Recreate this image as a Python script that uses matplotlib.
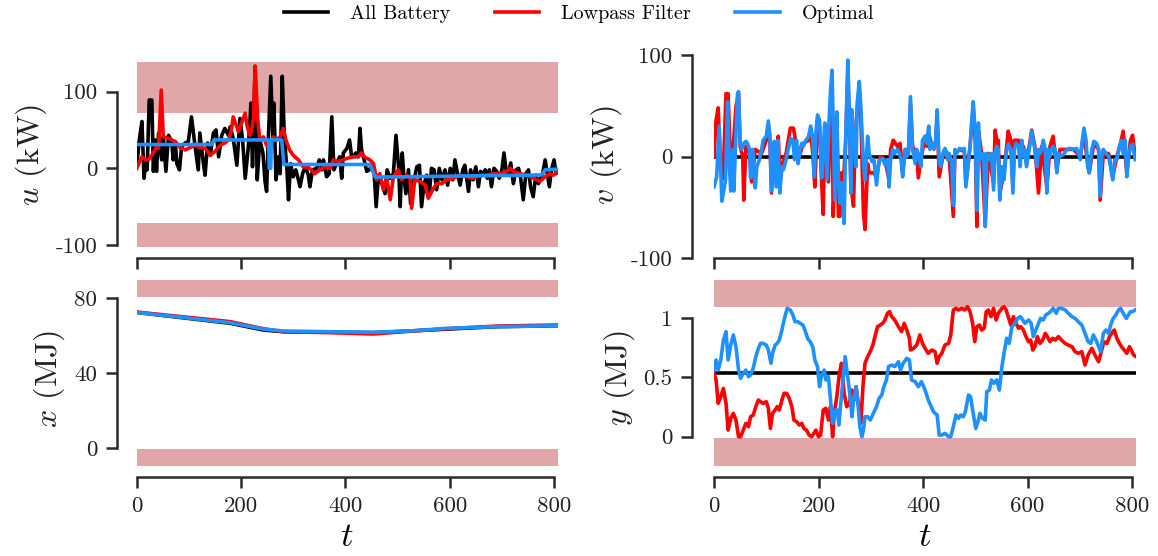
import matplotlib
matplotlib.use("Agg")
import matplotlib.pyplot as plt

plt.rcParams['font.family'] = ['cmr10', 'DejaVu Serif']
plt.rcParams['mathtext.fontset'] = 'cm'
plt.rcParams['axes.formatter.use_mathtext'] = True
plt.rcParams['axes.unicode_minus'] = False

# ---------------- data ----------------
series_names = ["All Battery", "Lowpass Filter", "Optimal"]
t_ticks = [0, 200, 400, 600, 800]

# u (kW): (t, value)
u_battery = [(0,2),(5,37),(10,61),(14,-13),(18,11),(20,-2),(24,89),(29,89),(32,-4),(35,37),(38,-4),(42,46),(48,11),(51,41),(56,-4),(61,43),(67,35),(70,11),(74,33),(77,6),(82,-2),(86,28),(93,33),(99,35),(105,67),(112,28),(118,-2),(121,46),(127,11),(131,-9),(136,33),(141,17),(147,46),(152,50),(157,15),(163,43),(169,52),(176,43),(179,54),(185,39),(192,4),(198,65),(203,37),(208,-13),(214,28),(219,85),(222,2),(227,133),(231,-15),(236,37),(242,20),(246,-17),(249,-30),(252,33),(257,120),(261,41),(263,85),(267,-15),(272,15),(275,-7),(279,120),(283,41),(288,-2),(291,-41),(295,6),(300,-11),(305,-2),(310,-15),(313,-24),(318,-7),(323,2),(329,-9),(332,-24),(337,-2),(345,0),(350,11),(355,-2),(358,11),(364,-11),(369,-7),(374,67),(378,-2),(383,6),(389,15),(393,-13),(396,20),(403,26),(408,37),(412,15),(415,15),(420,20),(425,15),(428,52),(431,24),(436,11),(441,-4),(446,-2),(450,4),(455,-4),(459,-50),(463,-13),(470,-20),(476,-33),(480,-2),(486,-13),(492,-7),(497,43),(502,2),(505,-50),(509,20),(512,-9),(516,-33),(521,-2),(525,-46),(530,-20),(537,2),(542,4),(546,-50),(551,-20),(556,-9),(561,-33),(565,0),(570,-2),(575,-28),(580,0),(585,-15),(591,-2),(596,-22),(601,0),(606,-15),(610,11),(615,-7),(620,-22),(625,-2),(629,4),(633,-15),(636,-30),(640,-2),(645,-15),(650,2),(655,-24),(659,-4),(663,-9),(668,-2),(672,-13),(676,-2),(680,-24),(685,0),(690,-4),(695,-13),(700,-2),(704,20),(708,-2),(712,-9),(717,7),(722,-20),(727,-2),(732,0),(736,-13),(741,-41),(746,-7),(751,-2),(755,-24),(760,-37),(765,-9),(770,-20),(773,-15),(778,-7),(783,11),(787,-7),(791,-24),(795,-2),(800,11),(804,-7),(806,-2)]
u_lowpass = [(0,0),(10,15),(16,11),(22,11),(32,20),(38,28),(42,26),(47,102),(51,41),(61,39),(67,37),(74,35),(83,27),(93,24),(102,27),(112,30),(121,27),(131,26),(141,17),(150,22),(160,30),(169,33),(176,37),(179,43),(182,52),(185,67),(192,54),(195,48),(201,59),(208,72),(212,54),(217,43),(220,48),(224,65),(227,133),(232,63),(236,37),(243,41),(249,30),(256,28),(262,41),(268,37),(275,41),(281,52),(286,37),(293,24),(300,17),(310,11),(319,2),(329,1),(335,-2),(341,-7),(351,-2),(361,2),(371,0),(377,11),(387,9),(396,11),(403,13),(415,15),(424,15),(431,20),(438,14),(447,11),(454,6),(460,-15),(466,-7),(473,-28),(479,-11),(486,-41),(492,-11),(501,-2),(508,-15),(517,-9),(524,-13),(527,-52),(533,-15),(543,-17),(553,-22),(559,-39),(569,-26),(575,-20),(585,-20),(594,-15),(607,-13),(620,-9),(633,-11),(645,-13),(658,-9),(671,-9),(684,-7),(697,-7),(709,-4),(716,0),(722,-4),(735,-7),(748,-9),(760,-13),(773,-17),(783,-11),(792,-7),(799,-9),(806,-4)]
u_optimal = [(0,31),(144,31),(148,37),(253,37),(254,0),(257,0),(258,37),(278,37),(282,5),(447,5),(457,-11.5),(776,-8.7),(783,-2),(806,-1)]

# v (kW)
v_battery = [(0,0),(806,0)]
v_lowpass = [(0,0),(4,36),(8,48),(12,-3),(15,-23),(19,3),(23,62),(27,62),(32,-10),(36,3),(42,49),(47,62),(50,10),(55,0),(57,-43),(61,10),(68,3),(72,-25),(79,7),(85,5),(91,3),(100,16),(104,30),(107,16),(110,-36),(115,13),(119,-23),(123,20),(126,-20),(133,-3),(138,3),(146,28),(152,28),(158,10),(165,3),(171,13),(181,16),(185,23),(189,3),(193,-30),(198,36),(202,30),(206,-26),(209,-57),(212,26),(216,-16),(219,-25),(223,48),(226,66),(228,-59),(231,-26),(235,36),(238,-59),(241,-59),(244,-16),(248,-23),(252,16),(256,80),(259,36),(262,-30),(267,-49),(270,16),(274,46),(278,66),(281,39),(286,-56),(289,-72),(294,-7),(297,-16),(305,-16),(311,-20),(318,0),(327,-3),(335,-23),(338,7),(343,16),(351,10),(356,13),(361,-16),(366,7),(372,3),(376,52),(380,10),(388,3),(391,-21),(396,-3),(404,20),(407,10),(411,23),(417,10),(424,13),(427,39),(431,-20),(438,0),(442,7),(450,0),(458,-59),(461,3),(470,7),(479,5),(482,-26),(490,10),(496,49),(500,16),(503,-69),(506,26),(512,3),(519,-66),(525,3),(535,-26),(538,26),(541,16),(544,16),(547,-36),(555,-16),(563,25),(568,16),(572,-30),(575,16),(583,16),(586,-3),(592,10),(598,-7),(608,26),(614,10),(621,-36),(627,10),(637,-30),(643,10),(649,20),(656,-13),(662,7),(675,7),(688,7),(701,0),(708,23),(715,-7),(718,-16),(727,13),(736,7),(739,-43),(745,3),(755,3),(763,-20),(771,0),(778,13),(783,25),(790,-16),(797,16),(801,21),(806,0)]
v_optimal = [(0,-30),(5,-20),(10,30),(13,-16),(15,-44),(19,-33),(22,-23),(26,54),(29,-3),(32,-34),(36,7),(38,-34),(42,23),(45,62),(47,64),(50,13),(53,7),(57,13),(61,15),(64,13),(68,7),(70,-21),(74,7),(79,-31),(82,-10),(87,-3),(91,7),(94,16),(100,20),(104,35),(107,20),(110,-34),(115,15),(119,-30),(122,16),(126,-36),(130,-10),(133,-13),(138,-3),(142,7),(147,18),(151,16),(154,-3),(158,16),(161,-7),(165,7),(168,13),(171,10),(176,16),(181,20),(185,30),(189,18),(192,-20),(195,23),(198,41),(202,36),(206,-21),(209,7),(212,33),(216,-23),(220,33),(223,66),(226,85),(228,33),(231,-43),(235,44),(238,-23),(241,-46),(244,-26),(249,-66),(252,16),(256,95),(259,46),(262,-36),(264,46),(268,10),(272,-10),(274,53),(278,74),(281,49),(286,-7),(289,-23),(294,20),(297,3),(302,-5),(306,-3),(311,-28),(315,-7),(318,-3),(323,-2),(327,-8),(332,-3),(335,-30),(338,-3),(342,7),(346,3),(351,7),(355,3),(358,-3),(361,-20),(366,7),(369,0),(372,3),(376,59),(380,7),(385,-7),(388,7),(391,3),(396,-10),(399,16),(404,20),(407,13),(411,30),(413,7),(417,13),(421,7),(424,16),(427,46),(431,-7),(434,-10),(438,3),(442,8),(447,-3),(450,3),(455,-7),(458,-48),(461,7),(464,3),(470,8),(474,7),(479,8),(482,-30),(486,-10),(490,10),(493,33),(496,54),(500,23),(503,-53),(506,33),(509,-3),(512,2),(516,3),(519,-69),(522,3),(525,0),(528,-3),(531,3),(535,-33),(538,3),(541,10),(544,7),(547,-43),(551,-10),(555,-23),(559,3),(563,12),(568,7),(572,-36),(575,7),(578,13),(583,10),(586,-10),(589,16),(592,0),(595,7),(598,-10),(602,3),(605,13),(608,25),(611,16),(614,7),(618,-10),(621,7),(624,3),(627,7),(630,16),(634,7),(637,-36),(640,7),(643,0),(646,7),(649,10),(653,7),(656,-16),(659,3),(662,0),(669,2),(675,7),(681,8),(688,7),(694,8),(701,-3),(704,13),(708,28),(712,16),(715,-10),(718,-16),(723,7),(727,15),(732,13),(736,7),(739,-39),(742,0),(745,7),(750,3),(755,0),(759,-10),(763,-23),(767,-3),(771,-3),(776,10),(780,16),(783,3),(787,16),(790,-20),(793,-3),(797,10),(801,12),(806,-3)]

# x (MJ)
x_battery = [(0,72.5),(179,66.7),(243,63.1),(281,62.2),(371,62.0),(454,61.7),(530,62.7),(690,64.9),(806,65.4)]
x_lowpass = [(0,72.7),(179,67.6),(243,63.8),(281,62.2),(371,61.7),(454,61.0),(530,62.6),(594,63.8),(690,65.2),(806,65.8)]
x_optimal = [(0,72.5),(179,67.0),(243,63.6),(281,62.6),(371,62.2),(454,61.9),(530,62.7),(594,64.0),(690,64.9),(806,65.4)]

# y (MJ)
y_battery = [(0,0.535),(806,0.535)]
y_lowpass = [(0,0.535),(4,0.479),(8,0.282),(13,0.338),(18,0.408),(23,0.282),(27,0.056),(32,0.155),(37,0.197),(42,0.141),(47,0.0),(51,0.0),(56,0.056),(61,0.113),(66,0.085),(70,0.169),(75,0.183),(80,0.254),(85,0.310),(89,0.296),(94,0.282),(100,0.296),(104,0.240),(108,0.070),(112,0.197),(117,0.225),(121,0.254),(125,0.225),(130,0.310),(134,0.366),(139,0.366),(144,0.324),(149,0.254),(153,0.141),(158,0.127),(163,0.099),(168,0.113),(172,0.070),(177,0.056),(182,0.014),(187,0.0),(191,0.028),(195,0.056),(200,0.0),(204,0.014),(209,0.225),(214,0.240),(219,0.141),(223,0.254),(227,0.0),(230,0.197),(235,0.338),(240,0.535),(244,0.620),(249,0.366),(254,0.254),(259,0.282),(264,0.394),(268,0.310),(272,0.422),(276,0.282),(281,0.113),(285,0.422),(289,0.620),(294,0.676),(299,0.718),(304,0.774),(308,0.845),(313,0.929),(318,0.943),(323,0.957),(327,0.985),(332,1.042),(336,1.056),(340,1.014),(346,0.985),(353,0.929),(359,0.887),(364,0.957),(369,0.901),(374,0.831),(376,0.732),(382,0.746),(388,0.774),(394,0.859),(399,0.788),(404,0.746),(410,0.704),(417,0.732),(423,0.718),(427,0.620),(431,0.676),(436,0.704),(442,0.774),(449,0.788),(453,0.859),(458,1.070),(463,1.084),(468,1.070),(474,1.084),(480,1.070),(485,1.098),(490,1.056),(495,0.957),(499,0.802),(503,0.929),(508,0.943),(512,0.901),(517,0.915),(521,1.056),(525,1.070),(530,1.014),(535,1.084),(540,0.985),(544,1.042),(551,1.084),(555,1.098),(559,1.070),(563,1.014),(568,0.943),(573,1.014),(578,0.957),(583,0.915),(587,0.929),(592,0.901),(597,0.845),(602,0.802),(606,0.816),(610,0.732),(614,0.760),(619,0.845),(624,0.788),(629,0.816),(634,0.873),(638,0.845),(643,0.802),(648,0.831),(653,0.816),(659,0.845),(665,0.816),(672,0.788),(678,0.774),(685,0.760),(691,0.718),(697,0.704),(704,0.718),(710,0.605),(716,0.690),(723,0.746),(729,0.690),(736,0.633),(742,0.732),(746,0.802),(752,0.788),(757,0.845),(761,0.873),(766,0.901),(771,0.831),(776,0.788),(780,0.760),(785,0.732),(790,0.704),(795,0.760),(797,0.746),(803,0.690),(806,0.681)]
y_optimal = [(0,0.563),(4,0.648),(8,0.563),(13,0.648),(18,0.816),(23,0.887),(27,0.648),(32,0.774),(37,0.859),(42,0.760),(47,0.563),(51,0.493),(56,0.535),(61,0.563),(66,0.507),(70,0.521),(75,0.577),(80,0.676),(85,0.746),(89,0.788),(94,0.788),(100,0.774),(104,0.732),(109,0.620),(112,0.704),(117,0.774),(121,0.788),(125,0.816),(130,0.901),(134,0.985),(140,1.084),(146,1.070),(151,1.028),(155,0.971),(160,0.971),(165,0.957),(170,0.943),(174,0.901),(179,0.831),(184,0.802),(189,0.760),(193,0.648),(198,0.592),(202,0.422),(206,0.521),(211,0.563),(214,0.479),(219,0.507),(223,0.310),(227,0.113),(232,0.225),(236,0.225),(239,0.099),(242,0.254),(248,0.535),(251,0.676),(255,0.535),(259,0.394),(264,0.169),(267,0.310),(272,0.422),(276,0.254),(279,0.085),(283,0.0),(286,0.056),(289,0.169),(294,0.169),(299,0.141),(305,0.197),(311,0.254),(316,0.324),(321,0.352),(325,0.422),(330,0.479),(334,0.592),(340,0.605),(346,0.592),(353,0.633),(357,0.563),(362,0.620),(369,0.662),(374,0.648),(378,0.479),(385,0.465),(391,0.422),(397,0.465),(404,0.394),(410,0.310),(420,0.211),(427,0.183),(431,0.014),(436,0.014),(442,0.028),(449,0.0),(453,0.0),(458,0.085),(463,0.183),(468,0.155),(472,0.183),(477,0.169),(481,0.211),(487,0.352),(491,0.338),(496,0.197),(501,0.070),(506,0.141),(509,0.197),(514,0.155),(519,0.141),(522,0.380),(527,0.394),(531,0.479),(536,0.451),(541,0.479),(546,0.394),(551,0.592),(555,0.704),(560,0.831),(565,0.788),(570,0.929),(576,0.957),(581,0.999),(586,1.014),(591,0.985),(595,0.957),(602,0.985),(607,0.957),(611,0.845),(616,0.901),(621,0.957),(625,0.999),(630,0.985),(635,1.028),(640,1.042),(644,1.056),(649,1.084),(655,1.042),(659,1.084),(665,1.084),(672,1.070),(678,1.042),(685,1.014),(691,0.999),(697,0.971),(704,0.943),(710,0.873),(716,0.802),(721,0.788),(726,0.859),(731,0.816),(736,0.760),(740,0.718),(745,0.873),(750,0.901),(755,0.873),(759,0.943),(764,0.999),(769,1.028),(774,1.070),(778,1.084),(783,1.042),(789,0.999),(793,1.028),(797,1.056),(801,1.056),(806,1.070)]

# constraint bands (value ranges)
u_bands = [(72, 139), (-103, -71)]
v_bands = []
x_bands = [(80.7, 95), (-9.4, -0.3)]
y_bands = [(1.095, 1.5), (-0.245, -0.01)]

# ---------------- figure ----------------
W, H = 1158, 556
fig = plt.figure(figsize=(W / 100, H / 100), dpi=100)

def rect(left, right, top, bottom):
    return [left / W, 1 - bottom / H, (right - left) / W, (bottom - top) / H]

colors = ["black", "#ff0000", "#1e90ff"]
band_color = "#e0a6a8"
spine_color = "#2b2b2b"

ax_u = fig.add_axes(rect(136.7, 557.7, 52, 258.3))
ax_v = fig.add_axes(rect(714, 1135.7, 52, 258.3))
ax_x = fig.add_axes(rect(136.7, 557.7, 280, 477))
ax_y = fig.add_axes(rect(714, 1135.7, 280, 477))

panels = [
    (ax_u, [u_battery, u_lowpass, u_optimal], u_bands, (-117.3, 151.6), [-100, 0, 100], ["-100", "0", "100"], "$u$ (kW)", False, 20),
    (ax_v, [v_battery, v_lowpass, v_optimal], v_bands, (-100.3, 103.0), [-100, 0, 100], ["-100", "0", "100"], "$v$ (kW)", False, 22),
    (ax_x, [x_battery, x_lowpass, x_optimal], x_bands, (-15.3, 89.8), [0, 40, 80], ["0", "40", "80"], "$x$ (MJ)", True, 20),
    (ax_y, [y_battery, y_lowpass, y_optimal], y_bands, (-0.340, 1.323), [0, 0.5, 1], ["0", "0.5", "1"], "$y$ (MJ)", True, 22),
]

handles = []
for ax, data, bands, ylim, yt, ytl, ylab, show_x, off in panels:
    for lo, hi in bands:
        ax.axhspan(lo, hi, color=band_color, lw=0, zorder=0)
    hs = []
    for ser, c in zip(data, colors):
        tt = [p[0] for p in ser]
        vv = [p[1] for p in ser]
        h, = ax.plot(tt, vv, color=c, lw=2.6, solid_joinstyle="round", zorder=2)
        hs.append(h)
    handles = hs
    ax.set_xlim(0, 807)
    ax.set_ylim(*ylim)
    ax.spines["top"].set_visible(False)
    ax.spines["right"].set_visible(False)
    ax.spines["left"].set_position(("outward", off * 0.72))
    ax.spines["left"].set_bounds(yt[0], yt[-1])
    ax.spines["bottom"].set_bounds(0, 800)
    for s in ("left", "bottom"):
        ax.spines[s].set_linewidth(1.8)
        ax.spines[s].set_color(spine_color)
    ax.set_xticks(t_ticks)
    ax.set_yticks(yt)
    ax.set_yticklabels(ytl)
    ax.tick_params(length=8, width=1.8, color=spine_color, pad=6,
                   labelsize=16.5, labelcolor="#222222")
    if show_x:
        ax.set_xticklabels([str(v) for v in t_ticks])
        ax.set_xlabel("$t$", fontsize=25, labelpad=4)
    else:
        ax.tick_params(labelbottom=False)
    ax.set_ylabel(ylab, fontsize=23, labelpad=5, color="#222222")
    ax.patch.set_alpha(0)

fig.legend(handles, series_names, loc="center", bbox_to_anchor=(0.5, 1 - 14 / H),
           ncol=3, frameon=False, fontsize=14.5, handlelength=2.2,
           handletextpad=1.1, columnspacing=2.2)

fig.savefig("out.png", dpi=100)
